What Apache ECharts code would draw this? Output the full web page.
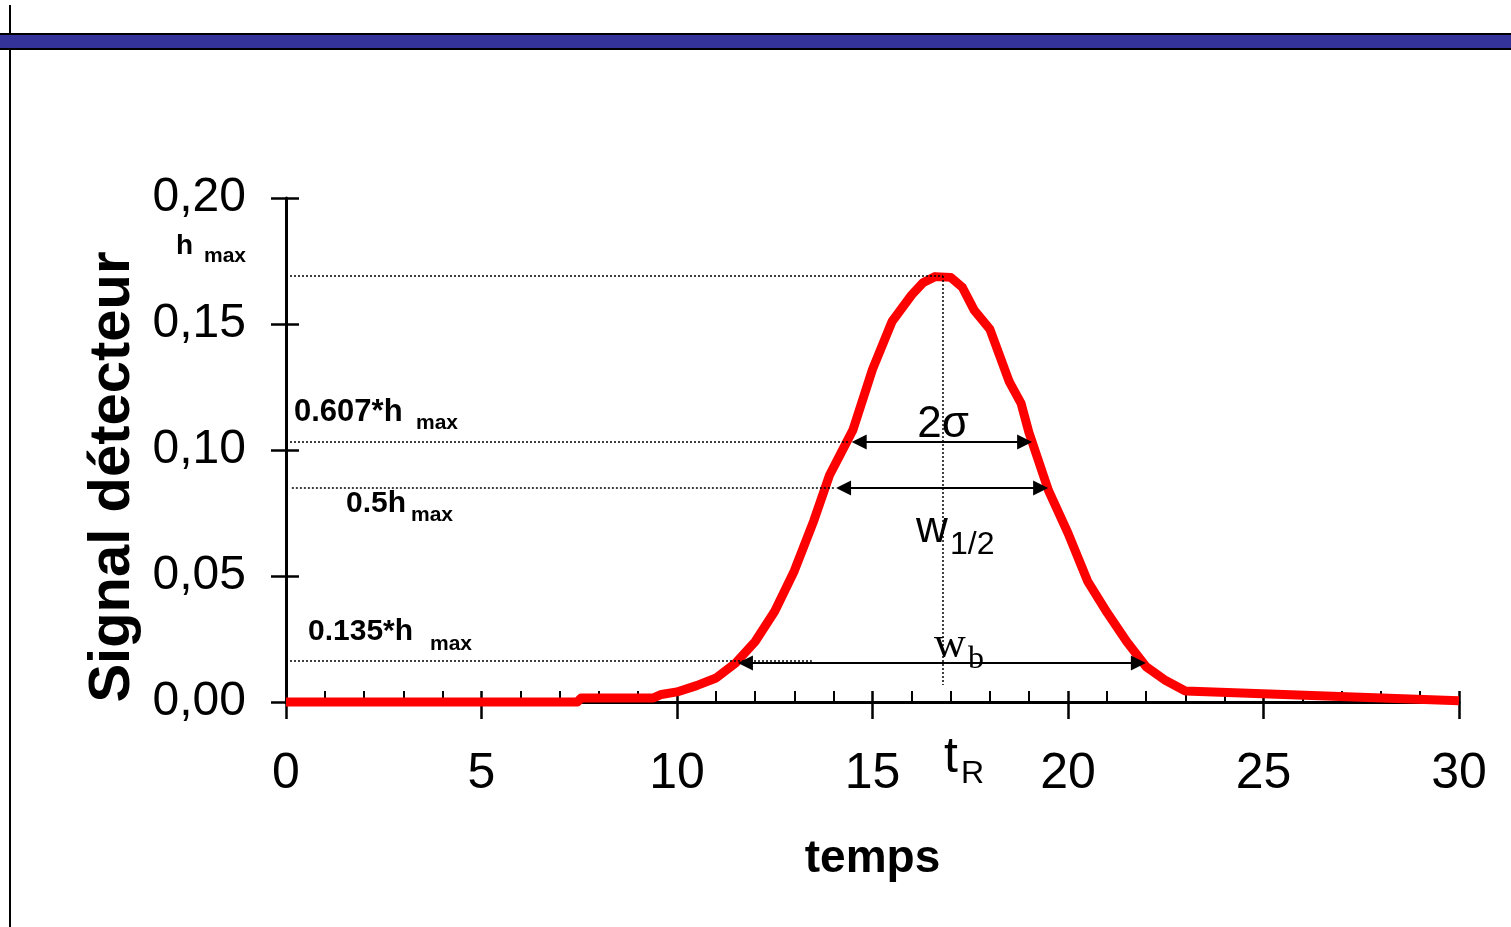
<!DOCTYPE html>
<html>
<head>
<meta charset="utf-8">
<script src="https://cdn.jsdelivr.net/npm/echarts@6/dist/echarts.min.js"></script>
<style>
  html, body { margin: 0; padding: 0; background: #fff; }
  #chart { width: 1511px; height: 927px; }
</style>
</head>
<body>
<div id="chart"></div>
<script>
  // temps (x) et signal détecteur (y)
  var timeVals = [0, 7.45, 7.55, 9.4, 9.6, 10, 10.5, 11, 11.5, 12, 12.5, 13, 13.5, 13.9, 14.1, 14.5, 15, 15.5, 16, 16.3, 16.6, 17, 17.3,
    17.6, 18, 18.5, 18.8, 19, 19.5, 20, 20.5, 21, 21.5, 22, 22.5, 23, 30]
  var signalVals = [0, 0, 0.0016, 0.0016, 0.003, 0.004, 0.0065, 0.0095, 0.0155, 0.024, 0.036, 0.052, 0.072, 0.09, 0.096, 0.108, 0.132,
    0.151, 0.1615, 0.1665, 0.1688, 0.1685, 0.1645, 0.1555, 0.148, 0.127, 0.1185, 0.107, 0.084, 0.067, 0.048, 0.0355, 0.024,
    0.014, 0.0085, 0.0044, 0.0005]
  var yTicks = [0, 0.05, 0.1, 0.15, 0.2]
  var xTicks = [0, 5, 10, 15, 20, 25, 30]

  // repères
  var tR = 16.8
  var hMax = 0.169
  var h607 = 0.1032
  var hHalf = 0.0849
  var h135 = 0.0163
  var wbLevel = 0.0155
  // extrémités des traits des flèches (la pointe dépasse d'une demi-flèche)
  var sigmaFrom = 14.66, sigmaTo = 18.89
  var halfFrom = 14.26, halfTo = 19.30
  var baseFrom = 11.75, baseTo = 21.80

  var chart = echarts.init(document.getElementById('chart'))
  var FONT = "'Liberation Sans', Arial, Helvetica, sans-serif"
  var SERIF = "'Liberation Serif', 'Times New Roman', serif"

  function dotted(x1, y1, x2, y2) {
    return [
      { coord: [x1, y1], symbol: 'none' },
      { coord: [x2, y2], symbol: 'none', lineStyle: { type: [2, 2], width: 1.5, color: '#000' } }
    ]
  }
  function arrow(x1, x2, y) {
    return [
      { coord: [x1, y], symbol: 'triangle' },
      { coord: [x2, y], symbol: 'triangle', lineStyle: { type: 'solid', width: 2, color: '#000' } }
    ]
  }
  function txt(x, y, text, font, align) {
    return {
      type: 'text',
      x: x,
      y: y,
      silent: true,
      style: {
        text: text,
        font: font,
        fill: '#000',
        align: align || 'left',
        verticalAlign: 'middle'
      }
    }
  }

  var seriesData = timeVals.map(function (t, i) { return [t, signalVals[i]] })

  chart.setOption({
    animation: false,
    backgroundColor: '#fff',
    grid: { left: 286, right: 52, top: 198, bottom: 225 },
    xAxis: [
      {
        type: 'value',
        position: 'bottom',
        min: xTicks[0],
        max: xTicks[xTicks.length - 1],
        interval: 5,
        name: 'temps',
        nameLocation: 'middle',
        nameGap: 134,
        nameTextStyle: { fontFamily: FONT, fontSize: 46, fontWeight: 'bold', color: '#000' },
        axisLine: { show: true, onZero: false, lineStyle: { color: '#000', width: 3 } },
        axisTick: { show: true, inside: true, length: 11, lineStyle: { color: '#000', width: 2.5 } },
        minorTick: { show: true, splitNumber: 5, length: 11, lineStyle: { color: '#000', width: 2 } },
        axisLabel: { fontFamily: FONT, fontSize: 50, color: '#000', margin: 47 },
        splitLine: { show: false },
        minorSplitLine: { show: false }
      },
      {
        // partie basse des grands traits
        type: 'value',
        position: 'bottom',
        min: xTicks[0],
        max: xTicks[xTicks.length - 1],
        interval: 5,
        axisLine: { show: false, onZero: false },
        axisTick: { show: true, inside: false, length: 17, lineStyle: { color: '#000', width: 2.5 } },
        axisLabel: { show: false },
        splitLine: { show: false }
      }
    ],
    yAxis: [
      {
        type: 'value',
        position: 'left',
        min: yTicks[0],
        max: yTicks[yTicks.length - 1],
        interval: 0.05,
        name: 'Signal détecteur',
        nameLocation: 'middle',
        nameRotate: 90,
        nameGap: 134,
        nameTextStyle: { fontFamily: FONT, fontSize: 58, fontWeight: 'bold', color: '#000', padding: [0, 54, 0, 0] },
        axisLine: { show: true, onZero: false, lineStyle: { color: '#000', width: 3 } },
        axisTick: { show: true, inside: true, length: 13, lineStyle: { color: '#000', width: 2.5 } },
        axisLabel: {
          fontFamily: FONT,
          fontSize: 48,
          color: '#000',
          margin: 40,
          padding: [4, 0, 0, 0],
          formatter: function (v) { return v.toFixed(2).replace('.', ',') }
        },
        splitLine: { show: false }
      },
      {
        type: 'value',
        position: 'left',
        min: yTicks[0],
        max: yTicks[yTicks.length - 1],
        interval: 0.05,
        axisLine: { show: false, onZero: false },
        axisTick: { show: true, inside: false, length: 15, lineStyle: { color: '#000', width: 2.5 } },
        axisLabel: { show: false },
        splitLine: { show: false }
      }
    ],
    series: [
      {
        type: 'line',
        xAxisIndex: 0,
        yAxisIndex: 0,
        data: seriesData,
        showSymbol: false,
        symbol: 'none',
        smooth: false,
        clip: false,
        z: 3,
        lineStyle: { color: '#ff0000', width: 9, join: 'round' },
        emphasis: { disabled: true },
        markLine: {
          silent: true,
          animation: false,
          symbolSize: [15, 15],
          label: { show: false },
          emphasis: { disabled: true },
          lineStyle: { color: '#000' },
          z: 4,
          data: [
            dotted(0, hMax, tR, hMax),
            dotted(tR, hMax, tR, 0.0067),
            dotted(0, h607, 14.4, h607),
            dotted(0.15, hHalf, 14.05, hHalf),
            dotted(0, h135, 13.45, h135),
            arrow(sigmaFrom, sigmaTo, h607),
            arrow(halfFrom, halfTo, hHalf),
            arrow(baseFrom, baseTo, wbLevel)
          ]
        }
      }
    ],
    graphic: [
      // bandeau du haut
      { type: 'line', silent: true, shape: { x1: 10, y1: 5, x2: 10, y2: 927 }, style: { stroke: '#000', lineWidth: 2 } },
      { type: 'rect', silent: true, shape: { x: 0, y: 33, width: 1511, height: 17 }, style: { fill: '#000' } },
      { type: 'rect', silent: true, shape: { x: 0, y: 35, width: 1511, height: 13 }, style: { fill: '#333399' } },
      // annotations
      txt(176, 246, 'h', 'bold 28px ' + FONT),
      txt(204, 256, 'max', 'bold 21px ' + FONT),
      txt(294, 412, '0.607*h', 'bold 31px ' + FONT),
      txt(416, 423, 'max', 'bold 21px ' + FONT),
      txt(346, 504, '0.5h', 'bold 30px ' + FONT),
      txt(411, 515, 'max', 'bold 21px ' + FONT),
      txt(308, 632, '0.135*h', 'bold 30px ' + FONT),
      txt(430, 644, 'max', 'bold 21px ' + FONT),
      txt(943, 425, '2σ', '44px ' + FONT, 'center'),
      txt(916, 530, 'w', '44px ' + FONT),
      txt(950, 545, '1/2', '32px ' + FONT),
      txt(934, 645, 'w', '44px ' + SERIF),
      txt(968, 660, 'b', '32px ' + SERIF),
      txt(944, 758, 't', '50px ' + FONT),
      txt(961, 774, 'R', '32px ' + FONT)
    ]
  })
</script>
</body>
</html>
